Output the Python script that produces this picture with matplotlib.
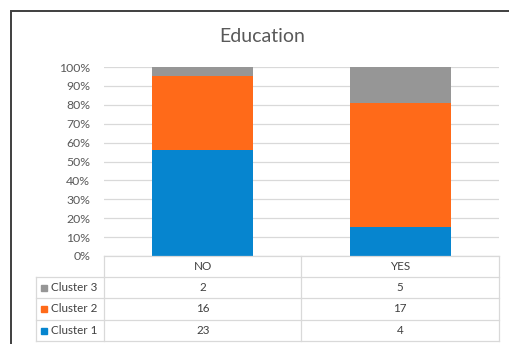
import matplotlib
matplotlib.use("Agg")
import matplotlib.pyplot as plt
from matplotlib.lines import Line2D
from matplotlib.patches import Rectangle
import numpy as np

categories = ["NO", "YES"]
series_names = ["Cluster 1", "Cluster 2", "Cluster 3"]
cluster1 = [23, 4]
cluster2 = [16, 17]
cluster3 = [2, 5]
colors = ["#0685CF", "#FF6A19", "#969696"]
title = "Education"

plt.rcParams['font.family'] = ['Lato', 'DejaVu Sans']

W, H = 510, 344
fig = plt.figure(figsize=(W / 100, H / 100), dpi=100)
fig.patch.set_facecolor("white")

def fx(px):
    return px / W

def fy(py):
    return 1 - py / H

# frame
fig.add_artist(Rectangle((fx(11.5), fy(400)), fx(600), fy(11.5) - fy(400),
                         transform=fig.transFigure, fill=False,
                         edgecolor="#3f3f3f", linewidth=1.4))

L, R, T, B = 104, 499, 67, 256
ax = fig.add_axes([fx(L), fy(B), fx(R) - fx(L), fy(T) - fy(B)])

data = np.array([cluster1, cluster2, cluster3], dtype=float)
totals = data.sum(axis=0)
pct = data / totals
x = np.arange(len(categories))
bottom = np.zeros(len(categories))
for i in range(len(series_names)):
    ax.bar(x, pct[i], 0.51, bottom=bottom, color=colors[i], zorder=3)
    bottom += pct[i]

ax.set_xlim(-0.5, len(categories) - 0.5)
ax.set_ylim(0, 1)
ax.set_yticks(np.arange(0, 1.01, 0.1))
ax.set_yticklabels([f"{int(round(v * 100))}%" for v in np.arange(0, 1.01, 0.1)],
                   fontsize=8.8, color="#595959")
ax.tick_params(axis="y", length=0, pad=10)
ax.set_xticks([])
ax.grid(axis="y", color="#d9d9d9", linewidth=0.9, zorder=0)
for s in ax.spines.values():
    s.set_visible(False)

fig.text(fx(262), fy(37), title, ha="center", va="center",
         fontsize=14, color="#595959")

# data table
gc = "#d9d9d9"
row_y = [256, 277, 298, 320, 341]
col_x = [L, (L + R) / 2, R]
lab_left = 36

def hline(y, x0, x1):
    fig.add_artist(Line2D([fx(x0), fx(x1)], [fy(y), fy(y)], color=gc, linewidth=0.9,
                          transform=fig.transFigure))

def vline(xp, y0, y1):
    fig.add_artist(Line2D([fx(xp), fx(xp)], [fy(y0), fy(y1)], color=gc, linewidth=0.9,
                          transform=fig.transFigure))

hline(row_y[0], L, R)
for y in row_y[1:]:
    hline(y, lab_left, R)
for xp in col_x:
    vline(xp, row_y[0], row_y[-1])
vline(lab_left, row_y[1], row_y[-1])

tc = "#404040"
fs = 8.4
for j, c in enumerate(categories):
    cx = (col_x[j] + col_x[j + 1]) / 2
    fig.text(fx(cx), fy((row_y[0] + row_y[1]) / 2), c, ha="center", va="center",
             fontsize=fs, color=tc)

rows = list(range(len(series_names)))[::-1]
for r, si in enumerate(rows):
    yc = (row_y[r + 1] + row_y[r + 2]) / 2
    fig.add_artist(Rectangle((fx(41), fy(yc + 3)), fx(6), fy(yc - 3) - fy(yc + 3),
                             transform=fig.transFigure, color=colors[si]))
    fig.text(fx(51), fy(yc), series_names[si], ha="left", va="center",
             fontsize=fs, color=tc)
    for j in range(len(categories)):
        cx = (col_x[j] + col_x[j + 1]) / 2
        fig.text(fx(cx), fy(yc), str(int(data[si][j])), ha="center", va="center",
                 fontsize=fs, color=tc)

fig.savefig("out.png", dpi=100, facecolor="white")
